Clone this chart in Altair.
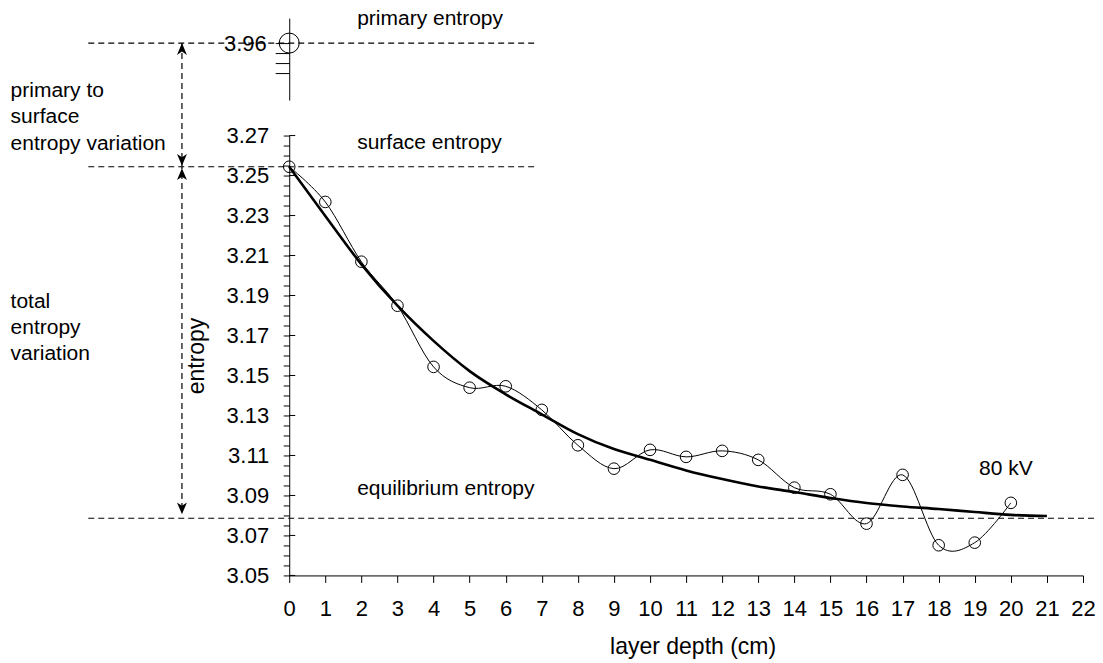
import altair as alt
import pandas as pd

FONT = "Liberation Sans"

# ---- data ----
depth = list(range(0, 21))
entropy = [3.2544, 3.2368, 3.2069, 3.1849, 3.1543, 3.1439, 3.1446, 3.1328, 3.1151,
           3.1034, 3.1128, 3.1093, 3.1123, 3.1078, 3.0939, 3.0906, 3.0759, 3.1003,
           3.0651, 3.0664, 3.0863]
fit_depth = list(range(0, 22))
fit_entropy = [3.2544, 3.2298, 3.2056, 3.1849, 3.1673, 3.1522, 3.1406, 3.1306, 3.1207,
               3.1132, 3.1078, 3.1025, 3.0982, 3.0945, 3.0917, 3.0887, 3.0862, 3.0845,
               3.0832, 3.0817, 3.0803, 3.0797]
primary_entropy = 3.96
surface_entropy = 3.2544
equilibrium_entropy = 3.0786

x_ticks = list(range(0, 23))
y_major = [3.05, 3.07, 3.09, 3.11, 3.13, 3.15, 3.17, 3.19, 3.21, 3.23, 3.25, 3.27]
y_all = [3.05, 3.055, 3.06, 3.065, 3.07, 3.075, 3.08, 3.085, 3.09, 3.095, 3.10, 3.105,
         3.11, 3.115, 3.12, 3.125, 3.13, 3.135, 3.14, 3.145, 3.15, 3.155, 3.16, 3.165,
         3.17, 3.175, 3.18, 3.185, 3.19, 3.195, 3.20, 3.205, 3.21, 3.215, 3.22, 3.225,
         3.23, 3.235, 3.24, 3.245, 3.25, 3.255, 3.26, 3.265, 3.27]
top_ticks = [3.96, 3.955, 3.95, 3.945]

W, H = 794, 440
TOP_H = 82

xs = alt.Scale(domain=[0, 22], nice=False, zero=False)
ys = alt.Scale(domain=[3.05, 3.27], nice=False, zero=False)
tys = alt.Scale(domain=[3.9315, 3.9725], nice=False, zero=False)

meas = pd.DataFrame({"depth": depth, "entropy": entropy})
fit = pd.DataFrame({"depth": fit_depth, "entropy": fit_entropy})
one = pd.DataFrame({"a": [0]})

x_axis = alt.Axis(values=x_ticks, title="layer depth (cm)", tickSize=7, labelPadding=16,
                  labelFontSize=22, titleFontSize=23, titleFontWeight="normal",
                  titleX=403.5, titleY=78.5, titleBaseline="alphabetic",
                  labelFlush=False, labelOverlap=False, grid=False, format="d")
y_axis = alt.Axis(values=y_all, title="entropy", tickSize=6, labelPadding=14.5,
                  labelFontSize=22, titleFontSize=23, titleFontWeight="normal",
                  titleX=-85.5, titleY=220, titleBaseline="alphabetic", titleAngle=270,
                  titleAlign="center",
                  labelExpr="round(datum.value*200) % 4 == 2 ? format(datum.value, '.2f') : ''",
                  labelOverlap=False, grid=False)

X = alt.X("depth:Q", scale=xs, axis=x_axis)
Y = alt.Y("entropy:Q", scale=ys, axis=y_axis)

fit_line = alt.Chart(fit).mark_line(color="black", strokeWidth=2.6,
                                    interpolate="monotone").encode(x=X, y=Y)
meas_line = alt.Chart(meas).mark_line(color="black", strokeWidth=1,
                                      interpolate="cardinal").encode(x=X, y=Y)
meas_pts = alt.Chart(meas).mark_point(shape="circle", size=135, filled=False,
                                      color="black", strokeWidth=1, opacity=1).encode(x=X, y=Y)

inner_ticks = alt.Chart(pd.DataFrame({"entropy": y_major})).mark_rule(
    color="black", strokeWidth=1).encode(y=Y, x=alt.value(0), x2=alt.value(6))

dash = [6, 4]
surf_line = alt.Chart(pd.DataFrame({"entropy": [surface_entropy]})).mark_rule(
    color="black", strokeWidth=1.2, strokeDash=dash).encode(
    y=Y, x=alt.value(-201), x2=alt.value(248))
equi_line = alt.Chart(pd.DataFrame({"entropy": [equilibrium_entropy]})).mark_rule(
    color="black", strokeWidth=1.2, strokeDash=dash).encode(
    y=Y, x=alt.value(-201), x2=alt.value(808))

AX = -107.3
vert = alt.Chart(one).mark_rule(color="black", strokeWidth=1.2, strokeDash=dash).encode(
    x=alt.value(AX), y=alt.value(-92.5), y2=alt.value(376))

DOWN = "M0,0 L-0.42,-1 L0,-0.72 L0.42,-1 Z"
UP = "M0,0 L-0.42,1 L0,0.72 L0.42,1 Z"
ASIZE = 560

arr_top = alt.Chart(one).mark_point(shape=UP, size=ASIZE, filled=True, color="black",
                                    opacity=1, strokeWidth=0).encode(
    x=alt.value(AX), y=alt.value(-92.5))
arr_surf_down = alt.Chart(pd.DataFrame({"entropy": [surface_entropy]})).mark_point(
    shape=DOWN, size=ASIZE, filled=True, color="black", opacity=1, strokeWidth=0,
    yOffset=-1).encode(x=alt.value(AX), y=Y)
arr_surf_up = alt.Chart(pd.DataFrame({"entropy": [surface_entropy]})).mark_point(
    shape=UP, size=ASIZE, filled=True, color="black", opacity=1, strokeWidth=0,
    yOffset=1.5).encode(x=alt.value(AX), y=Y)
arr_equi = alt.Chart(pd.DataFrame({"entropy": [equilibrium_entropy]})).mark_point(
    shape=DOWN, size=ASIZE, filled=True, color="black", opacity=1, strokeWidth=0,
    yOffset=-4).encode(x=alt.value(AX), y=Y)


def note(txt, x, y, size=21):
    return alt.Chart(one).mark_text(align="left", baseline="middle", fontSize=size,
                                    font=FONT, color="black").encode(
        x=alt.value(x), y=alt.value(y), text=alt.value(txt))


LX = -278.7
notes = [
    note("primary to", LX, -45),
    note("surface", LX, -18.5),
    note("entropy variation", LX, 8),
    note("total", LX, 166.5),
    note("entropy", LX, 192.5),
    note("variation", LX, 218.5),
    note("surface entropy", 68, 7.5),
    note("equilibrium entropy", 68, 354),
    note("80 kV", 690, 334),
]

main = alt.layer(fit_line, meas_line, meas_pts, inner_ticks, surf_line, equi_line,
                 vert, arr_top, arr_surf_down, arr_surf_up, arr_equi, *notes).properties(
    width=W, height=H)

# ---- upper (broken) axis segment with the primary entropy ----
TY = alt.Y("entropy:Q", scale=tys,
           axis=alt.Axis(values=top_ticks, tickSize=14, labelPadding=9, labelFontSize=22,
                         labelExpr="datum.value > 3.958 ? '3.96' : ''", title=None,
                         labelOverlap=False, grid=False))
TX = alt.X("depth:Q", scale=xs, axis=None)
prim = pd.DataFrame({"depth": [0], "entropy": [primary_entropy]})
top_pt = alt.Chart(prim).mark_point(shape="circle", size=400, filled=False, color="black",
                                    strokeWidth=1, opacity=1).encode(x=TX, y=TY)
top_line = alt.Chart(prim).mark_rule(color="black", strokeWidth=1.2, strokeDash=dash).encode(
    y=TY, x=alt.value(-201), x2=alt.value(248))
top_note = note("primary entropy", 68, 1)
top = alt.layer(top_line, top_pt, top_note).properties(width=W, height=TOP_H)

chart = alt.vconcat(top, main, spacing=35.5, bounds="flush").properties(
    padding={"left": 10.3, "top": 8, "right": 5, "bottom": 5}
).configure_view(stroke=None).configure_axis(
    labelFont=FONT, titleFont=FONT, labelColor="black", titleColor="black",
    domainColor="black", tickColor="black", domainWidth=1, tickWidth=1
)

chart.save("out.html", embed_options={"renderer": "svg", "actions": False})
